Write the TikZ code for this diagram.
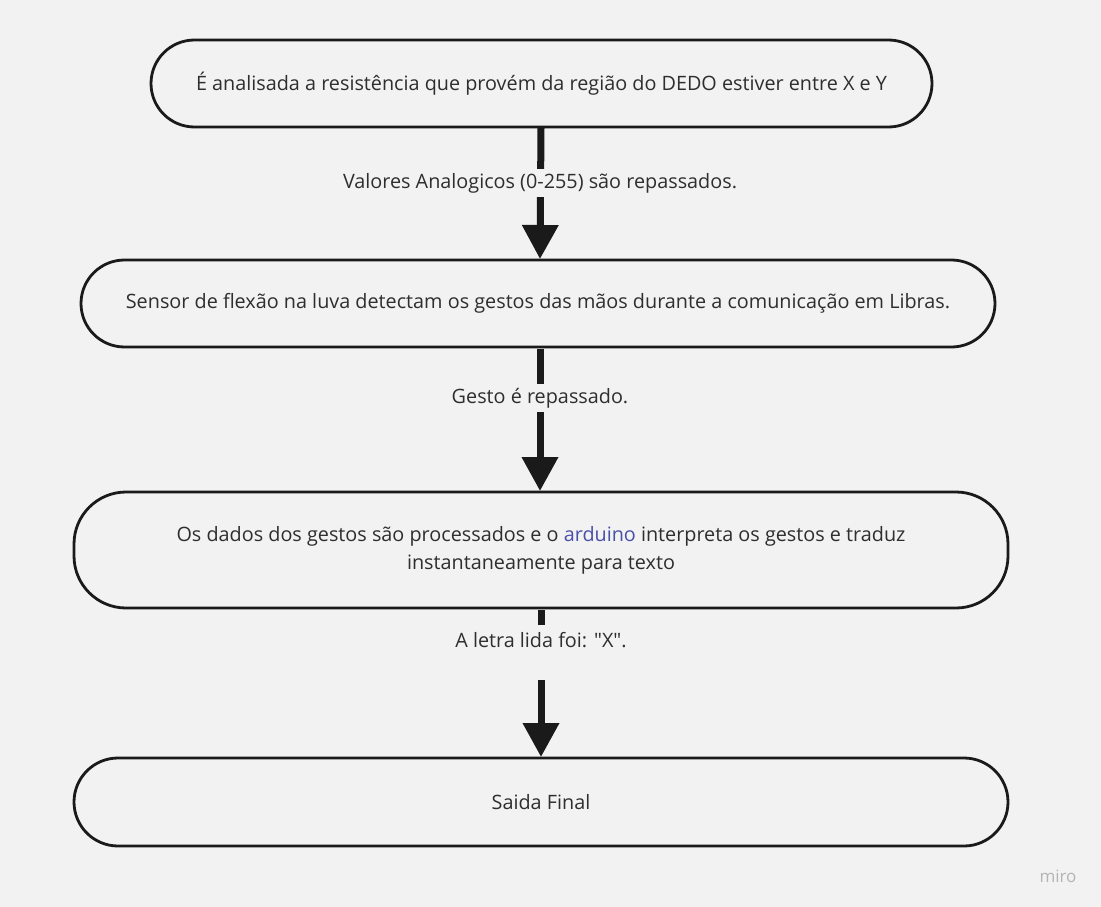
\documentclass[tikz,border=0pt]{standalone}
\usepackage{fontspec}
\setmainfont{Open Sans}
\newfontfamily\rawfont{Open Sans}
\usetikzlibrary{arrows.meta}
\definecolor{bg}{HTML}{F2F2F2}
\definecolor{edge}{HTML}{1A1A1A}
\definecolor{txt}{HTML}{2E2E2E}
\definecolor{link}{HTML}{4A4FA8}
\definecolor{logo}{HTML}{B4B4B4}
\tikzset{
  stadium/.style={draw=edge, line width=2.8pt, fill=bg, text=txt, align=center, inner sep=0pt,
    font=\fontsize{19.8}{28}\selectfont},
  conn/.style={draw=edge, line width=7pt},
  arr/.style={conn, -{Triangle[length=34pt,width=35pt]}, shorten >=-1pt},
  lbl/.style={fill=bg, text=txt, inner xsep=2pt, inner ysep=4pt, font=\fontsize{19.8}{22}\selectfont}
}
\begin{document}
\begin{tikzpicture}[x=1pt,y=-1pt]
\fill[bg] (0,0) rectangle (1101,907);
\useasboundingbox (0,0) rectangle (1101,907);
\node[stadium, minimum width=781pt, minimum height=87pt, rounded corners=43.5pt] (b1) at (541.5,83.5) {É analisada a resistência que provém da região do DEDO estiver entre X e Y};
\node[stadium, minimum width=914pt, minimum height=87pt, rounded corners=43.5pt] (b2) at (538,303.5) {Sensor de flexão na luva detectam os gestos das mãos durante a comunicação em Libras.};
\node[stadium, minimum width=934pt, minimum height=116pt, rounded corners=52pt] (b3) at (541,550) {Os dados dos gestos são processados e o \textcolor{link}{arduino} interpreta os gestos e traduz\\instantaneamente para texto};
\node[stadium, minimum width=934pt, minimum height=88pt, rounded corners=44pt] (b4) at (541,802) {Saida Final};
% arrow 1
\coordinate (a1s) at (541,128);
\coordinate (a1e) at (540,258);
\draw[arr] (a1s) -- (a1e);
\node[lbl] (l1) at (540,183) {Valores Analogicos (0-255) são repassados.};
% arrow 2
\coordinate (a2s) at (540,349);
\coordinate (a2e) at (540,490);
\draw[arr] (a2s) -- (a2e);
\node[lbl] (l2) at (540,398) {Gesto é repassado.};
% arrow 3
\coordinate (a3s) at (541,610);
\coordinate (a3m) at (541,625);
\coordinate (a3c) at (541,680);
\coordinate (a3e) at (541,756);
\draw[conn] (a3s) -- (a3m);
\node[text=txt, font=\fontsize{19.8}{22}\selectfont] (l3) at (541,640) {A letra lida foi: {\rawfont"}X{\rawfont"}.};
\draw[arr] (a3c) -- (a3e);
% logo
\node[text=logo, font=\fontsize{17}{19}\selectfont] (logo) at (1058,876) {miro};
\end{tikzpicture}
\end{document}
